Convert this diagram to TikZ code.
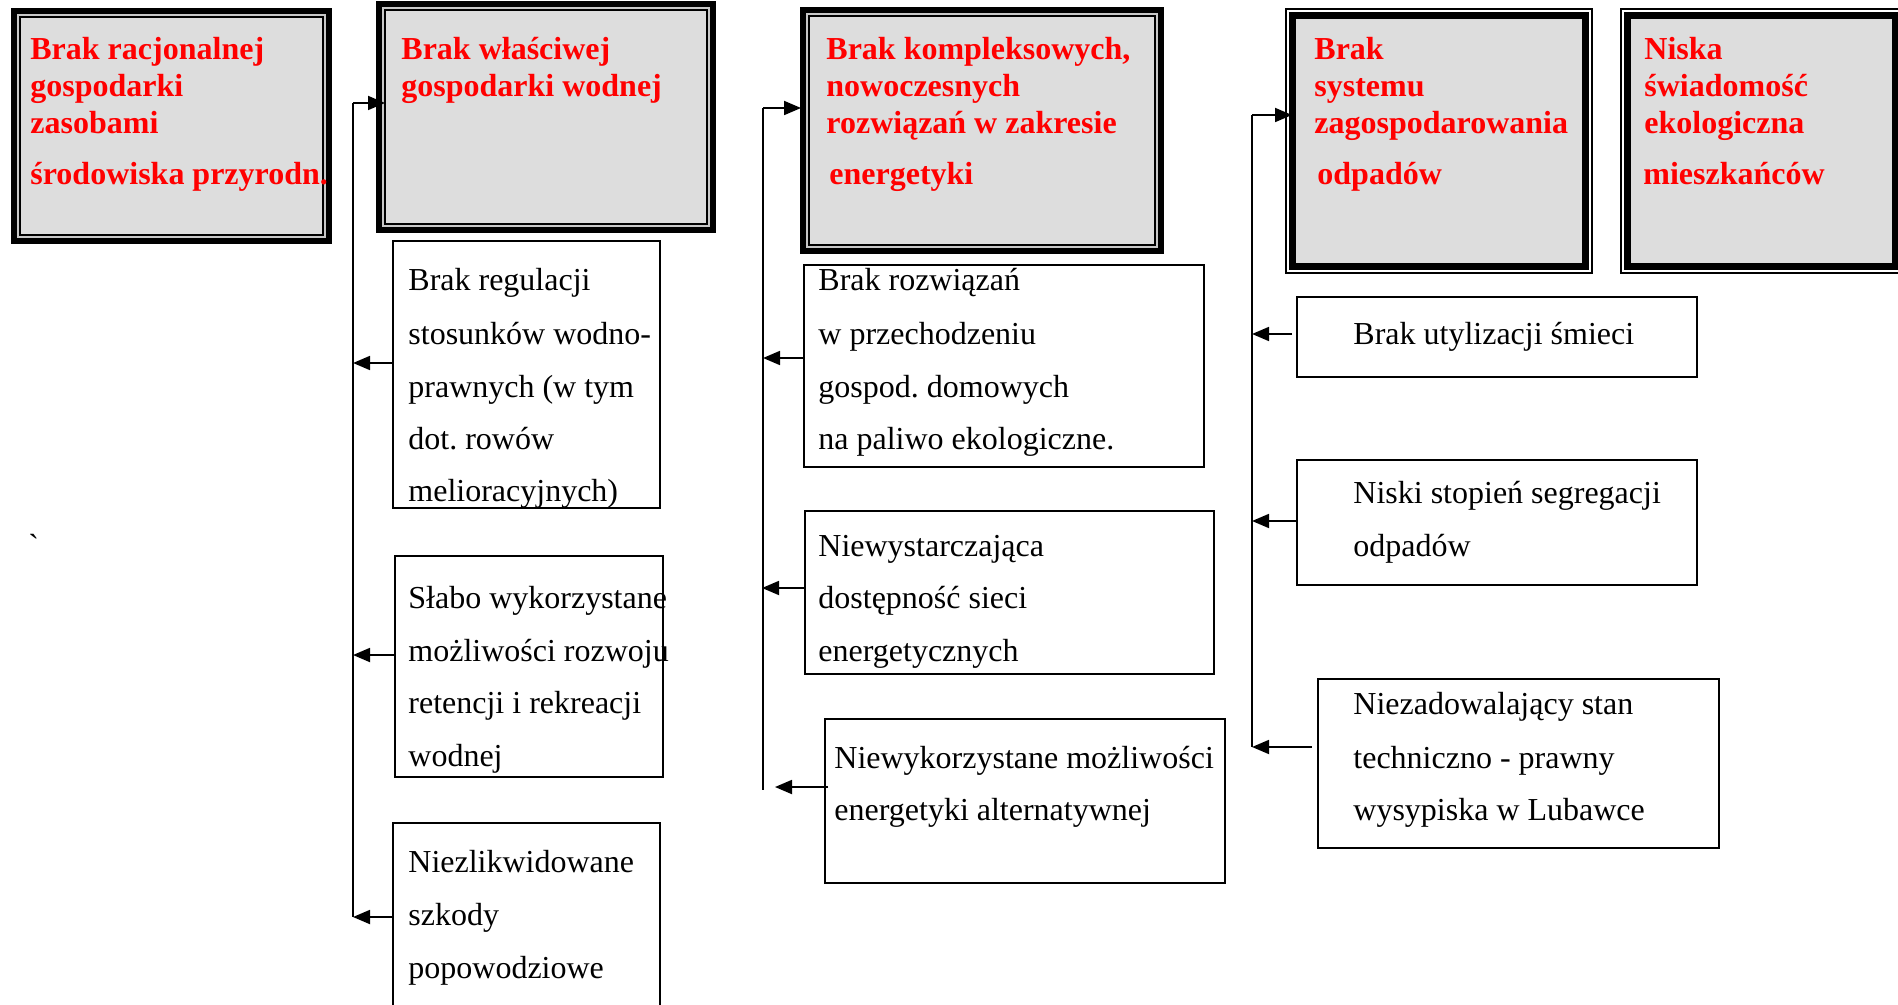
\documentclass[tikz,border=0pt]{standalone}
\usepackage{fontspec}
\setmainfont{Liberation Serif}
\usetikzlibrary{arrows.meta,fit}
\frenchspacing
\definecolor{boxgray}{HTML}{DDDDDD}
\definecolor{gapgray}{HTML}{C8C8C8}
\newcommand\hdrA[5]{%
  \node[fit={(#2,#3)(#4,#5)}, inner sep=0pt, fill=gapgray] (#1) {};
  \fill[boxgray] ([shift={(8,8)}]#1.north west) rectangle ([shift={(-8,-8)}]#1.south east);
  \draw[line width=3pt] ([shift={(3,3)}]#1.north west) rectangle ([shift={(-3,-3)}]#1.south east);
  \draw[line width=1pt] ([shift={(9,9)}]#1.north west) rectangle ([shift={(-9,-9)}]#1.south east);
}
\newcommand\hdrB[5]{%
  \node[fit={(#2,#3)(#4,#5)}, inner sep=0pt, fill=white] (#1) {};
  \draw[line width=1pt] ([shift={(1,1)}]#1.north west) rectangle ([shift={(-1,-1)}]#1.south east);
  \fill[boxgray] ([shift={(4,4)}]#1.north west) rectangle ([shift={(-4,-4)}]#1.south east);
  \draw[line width=3.5pt] ([shift={(7.5,7.5)}]#1.north west) rectangle ([shift={(-7.5,-7.5)}]#1.south east);
}
\tikzset{
  hd/.style={font=\fontsize{16}{19}\selectfont\bfseries, text=red, inner sep=0pt, anchor=base west},
  tx/.style={font=\fontsize{16}{19}\selectfont, text=black, inner sep=0pt, anchor=base west},
  subbox/.style={draw=black, line width=0.8pt, inner sep=0pt, fill=white},
  trunk/.style={draw=black, line width=0.9pt},
  arr/.style={draw=black, line width=0.9pt, -{Triangle[length=8.5pt,width=7pt]}},
}
\begin{document}
\begin{tikzpicture}[x=0.5pt,y=-0.5pt]
\useasboundingbox (0,0) rectangle (1898,1005);
\clip (0,0) rectangle (1898,1005);

% header boxes
\hdrA{h1}{11}{8}{332}{244}
\hdrA{h2}{376}{1}{716}{233}
\hdrA{h3}{800}{7}{1164}{254}
\hdrB{h4}{1285}{8}{1593}{274}
\hdrB{h5}{1620}{8}{1903}{274}

% header texts
\node[hd] (h1a) at (30,60) {Brak racjonalnej};
\node[hd] (h1b) at (30,97) {gospodarki};
\node[hd] (h1c) at (30,134) {zasobami};
\node[hd] (h1d) at (30,185) {środowiska przyrodn.};

\node[hd] (h2a) at (401,60) {Brak właściwej};
\node[hd] (h2b) at (401,97) {gospodarki wodnej};

\node[hd] (h3a) at (826,60) {Brak kompleksowych,};
\node[hd] (h3b) at (826,97) {nowoczesnych};
\node[hd] (h3c) at (826,134) {rozwiązań w zakresie};
\node[hd] (h3d) at (829,185) {energetyki};

\node[hd] (h4a) at (1314,60) {Brak};
\node[hd] (h4b) at (1314,97) {systemu};
\node[hd] (h4c) at (1314,134) {zagospodarowania};
\node[hd] (h4d) at (1317,185) {odpadów};

\node[hd] (h5a) at (1644,60) {Niska};
\node[hd] (h5b) at (1644,97) {świadomość};
\node[hd] (h5c) at (1644,134) {ekologiczna};
\node[hd] (h5d) at (1643,185) {mieszkańców};

% sub boxes
\node[subbox, fit={(393,241)(660,508)}] (a1) {};
\node[subbox, fit={(395,556)(663,777)}] (a2) {};
\node[subbox, fit={(393,823)(660,1012)}] (a3) {};
\node[subbox, fit={(804,265)(1204,467)}] (b1) {};
\node[subbox, fit={(805,511)(1214,674)}] (b2) {};
\node[subbox, fit={(825,719)(1225,883)}] (b3) {};
\node[subbox, fit={(1297,297)(1697,377)}] (c1) {};
\node[subbox, fit={(1297,460)(1697,585)}] (c2) {};
\node[subbox, fit={(1318,679)(1719,848)}] (c3) {};

% sub box texts
\node[tx] (a1a) at (408,291) {Brak regulacji};
\node[tx] (a1b) at (408,344) {stosunków wodno-};
\node[tx] (a1c) at (408,397) {prawnych (w tym};
\node[tx] (a1d) at (408,449) {dot. rowów};
\node[tx] (a1e) at (408,501) {melioracyjnych)};

\node[tx] (a2a) at (408,608) {Słabo wykorzystane};
\node[tx] (a2b) at (408,661) {możliwości rozwoju};
\node[tx] (a2c) at (408,713) {retencji i rekreacji};
\node[tx] (a2d) at (408,766) {wodnej};

\node[tx] (a3a) at (408,872) {Niezlikwidowane};
\node[tx] (a3b) at (408,925) {szkody};
\node[tx] (a3c) at (408,978) {popowodziowe};

\node[tx] (b1a) at (818,291) {Brak rozwiązań};
\node[tx] (b1b) at (818,344) {w przechodzeniu};
\node[tx] (b1c) at (818,397) {gospod. domowych};
\node[tx] (b1d) at (818,449) {na paliwo ekologiczne.};

\node[tx] (b2a) at (818,556) {Niewystarczająca};
\node[tx] (b2b) at (818,608) {dostępność sieci};
\node[tx] (b2c) at (818,661) {energetycznych};

\node[tx] (b3a) at (834,768) {Niewykorzystane możliwości};
\node[tx] (b3b) at (834,820) {energetyki alternatywnej};

\node[tx] (c1a) at (1353,344) {Brak utylizacji śmieci};

\node[tx] (c2a) at (1353,503) {Niski stopień segregacji};
\node[tx] (c2b) at (1353,556) {odpadów};

\node[tx] (c3a) at (1353,714) {Niezadowalający stan};
\node[tx] (c3b) at (1353,768) {techniczno - prawny};
\node[tx] (c3c) at (1353,820) {wysypiska w Lubawce};

\node[tx] (bt) at (28,556) {\textasciigrave};

% trunk coordinates
\coordinate (tAtop) at (353,103);
\coordinate (tA1) at (353,363);
\coordinate (tA2) at (353,655);
\coordinate (tA3) at (353,917);
\coordinate (h2in) at (385,103);

\coordinate (tBtop) at (763,108);
\coordinate (tB1) at (763,358);
\coordinate (tB2) at (762,588);
\coordinate (tBbot) at (763,790);
\coordinate (tB3) at (775,787);
\coordinate (b3out) at (828,787);
\coordinate (h3in) at (801,108);

\coordinate (tCtop) at (1252,115);
\coordinate (tC1) at (1252,334);
\coordinate (tC2) at (1252,521);
\coordinate (tC3) at (1252,747);
\coordinate (h4in) at (1292,115);
\coordinate (c1out) at (1292,334);
\coordinate (c3out) at (1312,747);

% connectors
\draw[trunk] (tAtop) -- (tA3);
\draw[arr] (tAtop) -- (h2in);
\draw[arr] (a1.west |- tA1) -- (tA1);
\draw[arr] (a2.west |- tA2) -- (tA2);
\draw[arr] (a3.west |- tA3) -- (tA3);

\draw[trunk] (tBtop) -- (tBbot);
\draw[arr] (tBtop) -- (h3in);
\draw[arr] (b1.west |- tB1) -- (tB1);
\draw[arr] (b2.west |- tB2) -- (tB2);
\draw[arr] (b3out) -- (tB3);

\draw[trunk] (tCtop) -- (tC3);
\draw[arr] (tCtop) -- (h4in);
\draw[arr] (c1out) -- (tC1);
\draw[arr] (c2.west |- tC2) -- (tC2);
\draw[arr] (c3out) -- (tC3);
\end{tikzpicture}
\end{document}
